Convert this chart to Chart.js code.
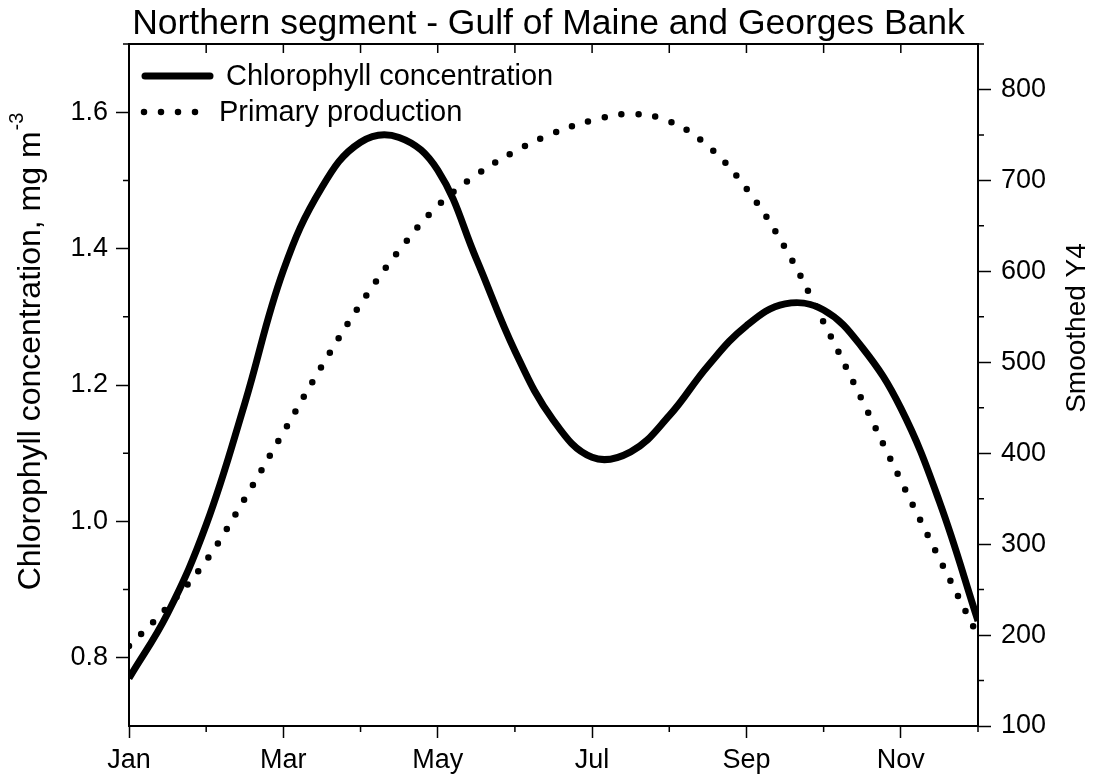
<!DOCTYPE html>
<html>
<head>
<meta charset="utf-8">
<script src="https://cdn.jsdelivr.net/npm/chart.js@4.4.1/dist/chart.umd.min.js"></script>
<style>
    html, body { margin: 0; padding: 0; background: #fff; }
    #chart { display: block; }
</style>
</head>
<body>
<canvas id="chart" width="1097" height="780"></canvas>
<script>
// month position (0 = Jan ... 11 = Dec), half-month steps
const months = [0, 0.5, 1, 1.5, 2, 2.5, 3, 3.5, 4, 4.5, 5, 5.5, 6, 6.5, 7, 7.5, 8, 8.5, 9, 9.5, 10, 10.5, 11];

// chlorophyll concentration, mg m-3 (left axis)
const chlorophyll = [0.77, 0.865, 0.995, 1.173, 1.368, 1.49, 1.556, 1.563, 1.515, 1.385, 1.25, 1.148, 1.094, 1.102, 1.155, 1.228, 1.287, 1.319, 1.31, 1.255, 1.166, 1.029, 0.854];

// primary production, smoothed (right axis)
const production = [188, 231, 282, 350, 423, 496, 564, 623, 672, 706, 732, 752, 766, 773, 765, 738, 691, 626, 544, 458, 370, 284, 199];

const monthTicks = [0, 2, 4, 6, 8, 10];
const monthLabels = ["Jan", "Mar", "May", "Jul", "Sep", "Nov"];
const monthMinor = [1, 3, 5, 7, 9, 11];
const monthTop = [1, 2, 3, 4, 5, 6, 7, 8, 9, 10];

const leftTicks = [0.8, 1.0, 1.2, 1.4, 1.6];
const leftMinor = [0.9, 1.1, 1.3, 1.5, 1.7];
const rightTicks = [100, 200, 300, 400, 500, 600, 700, 800];
const rightMinor = [150, 250, 350, 450, 550, 650, 750, 850];

const FONT = "'Liberation Sans', Arial, sans-serif";

function toPoints(xs, ys) {
    return xs.map((x, i) => ({ x: x, y: ys[i] }));
}

function setTicks(list) {
    return function (scale) {
        scale.ticks = list.map(v => ({ value: v }));
    };
}

// text rotated to read bottom to top, with optional superscript
function verticalText(ctx, cx, cy, size, text, sup) {
    ctx.save();
    ctx.translate(cx, cy);
    ctx.rotate(-Math.PI / 2);
    ctx.textBaseline = "middle";
    ctx.textAlign = "left";
    ctx.font = size + "px " + FONT;
    const w1 = ctx.measureText(text).width;
    let w2 = 0;
    const supSize = Math.round(size * 0.62);
    if (sup) {
        ctx.font = supSize + "px " + FONT;
        w2 = ctx.measureText(sup).width;
    }
    const x0 = -(w1 + w2) / 2;
    ctx.font = size + "px " + FONT;
    ctx.fillText(text, x0, 0);
    if (sup) {
        ctx.font = supSize + "px " + FONT;
        ctx.fillText(sup, x0 + w1 + 1, -size * 0.42);
    }
    ctx.restore();
}

// frame top line, minor ticks, axis titles and legend
const extras = {
    id: "extras",
    afterDraw(chart) {
        const ctx = chart.ctx;
        const a = chart.chartArea;
        const x = chart.scales.x;
        const yl = chart.scales.yL;
        const yr = chart.scales.yR;

        ctx.save();
        ctx.strokeStyle = "#000";
        ctx.lineWidth = 2;
        ctx.beginPath();
        ctx.moveTo(a.left - 1, a.top);
        ctx.lineTo(a.right + 1, a.top);
        ctx.stroke();

        ctx.lineWidth = 1.5;
        ctx.beginPath();
        monthTop.forEach(m => {
            const px = x.getPixelForValue(m);
            ctx.moveTo(px, a.top);
            ctx.lineTo(px, a.top + 9);
        });
        monthMinor.forEach(m => {
            const px = x.getPixelForValue(m);
            ctx.moveTo(px, a.bottom);
            ctx.lineTo(px, a.bottom + 6);
        });
        leftMinor.forEach(v => {
            const py = yl.getPixelForValue(v);
            ctx.moveTo(a.left, py);
            ctx.lineTo(a.left - 6, py);
        });
        rightMinor.forEach(v => {
            const py = yr.getPixelForValue(v);
            ctx.moveTo(a.right, py);
            ctx.lineTo(a.right + 6, py);
        });
        ctx.stroke();
        ctx.restore();

        ctx.fillStyle = "#000";
        verticalText(ctx, 31, 352, 32, "Chlorophyll concentration, mg m", "-3");
        verticalText(ctx, 1077, 328, 28, "Smoothed Y4");

        // legend
        const ds = chart.data.datasets;
        ctx.save();
        ctx.font = "29px " + FONT;
        ctx.fillStyle = "#000";
        ctx.textBaseline = "middle";
        ctx.textAlign = "left";

        ctx.strokeStyle = ds[0].borderColor;
        ctx.lineWidth = 7;
        ctx.lineCap = "round";
        ctx.beginPath();
        ctx.moveTo(a.left + 16, a.top + 32);
        ctx.lineTo(a.left + 81, a.top + 32);
        ctx.stroke();
        ctx.fillText(ds[0].label, a.left + 97, a.top + 33);

        ctx.lineWidth = ds[1].borderWidth;
        ctx.setLineDash(ds[1].borderDash);
        ctx.beginPath();
        ctx.moveTo(a.left + 15, a.top + 68);
        ctx.lineTo(a.left + 70, a.top + 68);
        ctx.stroke();
        ctx.setLineDash([]);
        ctx.fillText(ds[1].label, a.left + 90, a.top + 69);
        ctx.restore();
    }
};

const ctx = document.getElementById("chart");

new Chart(ctx, {

    type: "line",

    data: {
        datasets: [
            {
                label: "Chlorophyll concentration",
                data: toPoints(months, chlorophyll),
                yAxisID: "yL",
                borderColor: "#000",
                borderWidth: 7,
                pointRadius: 0,
                tension: 0.4,
                fill: false
            },
            {
                label: "Primary production",
                data: toPoints(months, production),
                yAxisID: "yR",
                borderColor: "#000",
                borderWidth: 6.5,
                borderDash: [0, 17],
                borderCapStyle: "round",
                pointRadius: 0,
                tension: 0.4,
                fill: false
            }
        ]
    },

    options: {
        responsive: false,
        animation: false,
        devicePixelRatio: 1,
        layout: { padding: 0 },

        plugins: {
            legend: { display: false },
            tooltip: { enabled: false },
            title: {
                display: true,
                text: "Northern segment - Gulf of Maine and Georges Bank",
                color: "#000",
                font: { family: FONT, size: 35.5, weight: "normal", lineHeight: 40 / 35.5 },
                padding: { top: 4, bottom: 0 }
            }
        },

        scales: {
            x: {
                type: "linear",
                position: "bottom",
                min: 0,
                max: 11,
                afterBuildTicks: setTicks(monthTicks),
                afterFit(scale) { scale.height = 54; },
                grid: {
                    drawOnChartArea: false,
                    tickLength: 12,
                    tickWidth: 1.5,
                    tickColor: "#000"
                },
                border: { display: true, color: "#000", width: 2 },
                ticks: {
                    color: "#000",
                    font: { family: FONT, size: 27 },
                    padding: 6,
                    maxRotation: 0,
                    autoSkip: false,
                    callback: (v, i) => monthLabels[i]
                }
            },
            yL: {
                type: "linear",
                position: "left",
                min: 0.7,
                max: 1.7,
                afterBuildTicks: setTicks(leftTicks),
                afterFit(scale) { scale.width = 129; },
                grid: {
                    drawOnChartArea: false,
                    tickLength: 13,
                    tickWidth: 1.5,
                    tickColor: "#000"
                },
                border: { display: true, color: "#000", width: 2 },
                ticks: {
                    color: "#000",
                    font: { family: FONT, size: 27 },
                    padding: 8,
                    callback: v => v.toFixed(1)
                }
            },
            yR: {
                type: "linear",
                position: "right",
                min: 100,
                max: 850,
                afterBuildTicks: setTicks(rightTicks),
                afterFit(scale) { scale.width = 119; },
                grid: {
                    drawOnChartArea: false,
                    tickLength: 13,
                    tickWidth: 1.5,
                    tickColor: "#000"
                },
                border: { display: true, color: "#000", width: 2 },
                ticks: {
                    color: "#000",
                    font: { family: FONT, size: 27 },
                    padding: 10
                }
            }
        }
    },

    plugins: [extras]

});
</script>
</body>
</html>
